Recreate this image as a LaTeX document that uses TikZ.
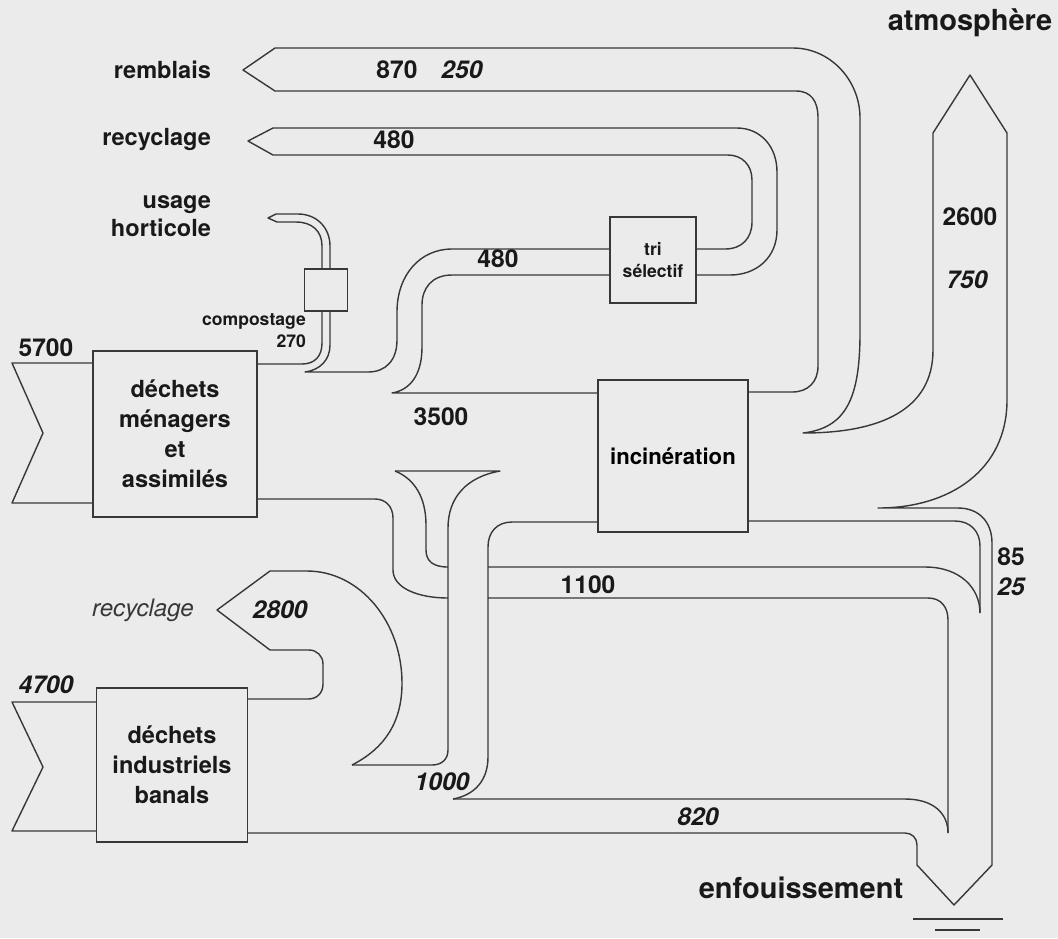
\documentclass[tikz,border=0pt]{standalone}
\usepackage{fontspec}
\setmainfont{TeX Gyre Heros}
\usepackage{tikz}
\definecolor{paper}{HTML}{EBEBEB}
\definecolor{ink}{HTML}{383838}
\tikzset{
  band/.style={draw=ink, line width=0.8pt, line join=round},
  box/.style={draw=ink, line width=0.8pt, fill=paper, inner sep=0pt, align=center},
  lbl/.style={font=\fontsize{13.4}{17}\selectfont\bfseries, text=black!90, inner sep=1pt},
  big/.style={font=\fontsize{16.5}{20}\selectfont\bfseries, text=black!90, inner sep=1pt},
  num/.style={font=\fontsize{14}{17}\selectfont\bfseries, text=black!90, inner sep=1pt},
  inum/.style={font=\fontsize{14}{17}\selectfont\bfseries\itshape, text=black!90, inner sep=1pt},
  small/.style={font=\fontsize{10}{12}\selectfont\bfseries, text=black!90, align=center, inner sep=1pt}
}

\begin{document}
\begin{tikzpicture}[x=0.02cm, y=-0.02cm]
                %page
                \fill[paper] (0,0) rectangle (1058,938);
                \useasboundingbox (0,0) rectangle (1058,938);

                %incoming arrows
                \draw[band] (93,363) -- (12,363) -- (43,433) -- (12,503) -- (93,503);
                \draw[band] (97,702) -- (12,702) -- (43,767) -- (12,831) -- (97,831);

                %compost band, then outer edge of the 480 band
                \draw[band] (257,364) -- (302,364) .. controls (315,364) and (322,356) .. (322,343) -- (322,246)
                    .. controls (322,231) and (312,222) .. (296,222) -- (277,222) -- (268,218) -- (276,214) -- (298,214)
                    .. controls (317,214) and (330,228) .. (330,246) -- (330,345) .. controls (330,360) and (320,370) .. (305,372)
                    -- (368,372) .. controls (386,372) and (397,360) .. (397,340) -- (397,312)
                    .. controls (397,275) and (420,249) .. (452,249) -- (610,249);

                %inner edge of the 480 band, top of 3500
                \draw[band] (610,275) -- (452,275) .. controls (432,275) and (422,288) .. (422,305) -- (422,347)
                    .. controls (422,375) and (410,390) .. (392,393) -- (598,393);

                %recycling loop out of the sorting
                \draw[band] (696,275) -- (730,275) .. controls (757,275) and (777,257) .. (777,230) -- (777,172)
                    .. controls (777,146) and (760,128) .. (737,128) -- (273,128) -- (248,141) -- (273,155) -- (728,155)
                    .. controls (742,155) and (752,165) .. (752,180) -- (752,222) .. controls (752,238) and (742,249) .. (725,249) -- (696,249);

                %remblais, atmosphere and landfill outline
                \draw[band] (748,392) -- (792,392) .. controls (808,392) and (818,382) .. (818,366) -- (818,118)
                    .. controls (818,101) and (811,91) .. (796,91) -- (275,91) -- (243,70) -- (275,48) -- (793,48)
                    .. controls (830,48) and (860,80) .. (860,118) -- (860,333) .. controls (860,400) and (845,428) .. (803,433)
                    .. controls (880,433) and (933,410) .. (933,350) -- (933,133) -- (970,75) -- (1007,133) -- (1007,400)
                    .. controls (1007,470) and (950,508) .. (878,508) -- (958,508) .. controls (979,508) and (992,522) .. (992,543)
                    -- (992,865) -- (954,905) -- (917,865) -- (917,845) .. controls (917,838) and (912,833) .. (905,833) -- (248,833);

                %85 / 25 and the 1100 band
                \draw[band] (748,521) -- (955,521) .. controls (970,521) and (980,531) .. (980,546) -- (980,613);
                \draw[band] (488,567) -- (925,567) .. controls (960,567) and (980,588) .. (980,613);
                \draw[band] (488,598) -- (928,598) .. controls (941,598) and (948,607) .. (948,620) -- (948,833);
                \draw[band] (453,799) -- (905,799) .. controls (933,799) and (948,813) .. (948,833);

                %1000 band going up into the incinerator
                \draw[band] (598,522) -- (512,522) .. controls (497,522) and (488,532) .. (488,547) -- (488,757)
                    .. controls (488,780) and (475,795) .. (453,799);

                %funnel
                \draw[band] (395,471) -- (500,471) .. controls (466,477) and (448,498) .. (448,528) -- (448,750)
                    .. controls (448,759) and (442,765) .. (432,765) -- (352,765);
                \draw[band] (395,471) .. controls (415,479) and (426,498) .. (426,525) -- (426,550)
                    .. controls (426,561) and (433,567) .. (448,567);

                %lower output of the household waste
                \draw[band] (257,499) -- (375,499) .. controls (386,499) and (393,507) .. (393,518) -- (393,570)
                    .. controls (393,588) and (418,598) .. (448,598);

                %2800 back to recycling
                \draw[band] (248,699) -- (308,699) .. controls (317,699) and (323,693) .. (323,684) -- (323,664)
                    .. controls (323,656) and (317,650) .. (309,650) -- (270,650) -- (217,610) -- (270,571) -- (307,571)
                    .. controls (360,571) and (402,622) .. (402,683) .. controls (402,722) and (385,748) .. (352,765);

                %ground
                \draw[band] (913,919) -- (1003,919);
                \draw[band] (935,930) -- (980,930);

                %boxes
                \node[box, lbl, minimum width=3.28cm, minimum height=3.32cm] (dma) at (175,434) {déchets\\ménagers\\et\\assimilés};
                \node[box, lbl, minimum width=3.02cm, minimum height=3.08cm] (dib) at (172,765) {déchets\\industriels\\banals};
                \node[box, minimum width=3.0cm, minimum height=3.04cm, font=\fontsize{12.6}{15}\selectfont\bfseries] (inc) at (673,456) {incinération};
                \node[box, small, minimum width=1.72cm, minimum height=1.72cm] (tri) at (653,260) {tri\\sélectif};
                \node[box, minimum width=0.86cm, minimum height=0.84cm] (comp) at (326,290) {};

                %labels
                \node[lbl, anchor=east] (lremb) at (213,70) {remblais};
                \node[lbl, anchor=east] (lrecy) at (213,139) {recyclage};
                \node[lbl, anchor=east, align=right, font=\fontsize{13.4}{16}\selectfont\bfseries] (lhort) at (213,216) {usage\\horticole};
                \node[small, anchor=east, align=right, font=\fontsize{10}{12.5}\selectfont\bfseries] (lcomp) at (308,331) {compostage\\270};
                \node[font=\fontsize{13.7}{17}\selectfont\itshape, text=ink] (lrecyb) at (143,610) {recyclage};
                \node[big] (latm) at (970,23) {atmosphère};
                \node[big] (lenf) at (801,888) {enfouissement};

                %numbers
                \node[num] (n5700) at (46,348) {5700};
                \node[inum] (n4700) at (46,685) {4700};
                \node[num] (n870) at (397,70) {870};
                \node[inum] (n250) at (462,70) {250};
                \node[num] (n480a) at (394,140) {480};
                \node[num] (n480b) at (498,259) {480};
                \node[num] (n3500) at (441,417) {3500};
                \node[num] (n2600) at (970,217) {2600};
                \node[inum] (n750) at (967,280) {750};
                \node[num] (n85) at (1011,557) {85};
                \node[inum] (n25) at (1011,587) {25};
                \node[num] (n1100) at (588,585) {1100};
                \node[inum] (n820) at (698,817) {820};
                \node[inum] (n1000) at (442,782) {1000};
                \node[inum] (n2800) at (280,610) {2800};
\end{tikzpicture}
\end{document}
